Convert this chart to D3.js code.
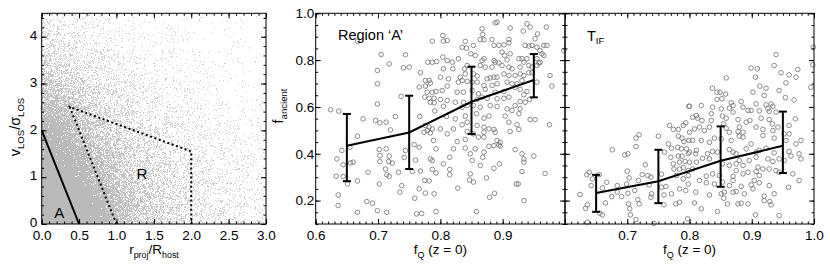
<!DOCTYPE html>
<html>
<head>
<meta charset="utf-8">
<script src="https://cdn.jsdelivr.net/npm/d3@7"></script>
<style>
  body { margin: 0; background: #fff; }
  svg { display: block; font-family: "Liberation Sans", Arial, Helvetica, sans-serif; }
  .tick text { font-size: 13.5px; fill: #000; }
  .tick line { stroke: #000; stroke-width: 1; }
</style>
</head>
<body>
<svg id="chart" width="830" height="265"></svg>
<script>
// panel 1 : density of the projected phase space (fill fraction in %)
var densX = [0.125, 0.375, 0.625, 0.875, 1.125, 1.375, 1.625, 1.875, 2.125, 2.375, 2.625, 2.875];
var densY = [0.125, 0.375, 0.625, 0.875, 1.125, 1.375, 1.625, 1.875, 2.125, 2.375, 2.625, 2.875,
             3.125, 3.375, 3.625, 3.875, 4.125, 4.375];
var density = [
  [100, 100, 100, 96, 70, 50, 38, 30, 22, 17, 13, 11],
  [100, 100, 100, 93, 67, 48, 37, 29, 21, 16, 13, 10],
  [100, 100, 99, 88, 63, 46, 35, 27, 20, 15, 12, 10],
  [100, 100, 96, 82, 58, 43, 33, 25, 19, 14, 11, 9],
  [100, 99, 91, 75, 53, 40, 30, 23, 17, 13, 10, 8],
  [100, 97, 85, 68, 48, 36, 27, 21, 15, 12, 9, 7],
  [99, 94, 78, 60, 43, 32, 24, 18, 13, 10, 8, 6],
  [97, 89, 70, 52, 37, 28, 21, 15, 11, 9, 7, 5],
  [94, 82, 61, 45, 32, 24, 17, 13, 10, 8, 6, 5],
  [88, 72, 52, 38, 27, 20, 14, 11, 8, 6, 5, 4],
  [78, 61, 43, 31, 22, 16, 12, 9, 7, 5, 4, 3],
  [65, 50, 35, 25, 18, 13, 9, 7, 6, 4, 3, 3],
  [52, 40, 28, 20, 14, 10, 7, 6, 5, 3, 3, 2],
  [41, 31, 22, 15, 11, 8, 6, 5, 4, 3, 2, 2],
  [32, 24, 17, 12, 9, 6, 5, 4, 3, 2, 2, 2],
  [25, 19, 13, 9, 7, 5, 4, 3, 2, 2, 2, 1],
  [19, 14, 10, 7, 5, 4, 3, 2, 2, 2, 1, 1],
  [15, 11, 8, 6, 4, 3, 2, 2, 2, 1, 1, 1]
];
var boundaryA = [[0, 2], [0.5, 0]];
var boundaryR = [[1, 0], [0.375, 2.5], [2, 1.55], [2, 0]];

var rTicks = [0, 0.5, 1, 1.5, 2, 2.5, 3];
var vTicks = [0, 1, 2, 3, 4];
var fqTicks = [0.6, 0.7, 0.8, 0.9, 1.0];
var fancTicks = [0.2, 0.4, 0.6, 0.8, 1.0];

// panels 2 and 3 : binned means with scatter
var fqBins = [0.65, 0.75, 0.85, 0.95];
var regionAMean = [0.434, 0.491, 0.622, 0.715];
var regionALo = [0.283, 0.335, 0.484, 0.641];
var regionAHi = [0.570, 0.648, 0.772, 0.826];
var tifMean = [0.232, 0.283, 0.370, 0.434];
var tifLo = [0.152, 0.189, 0.259, 0.318];
var tifHi = [0.310, 0.417, 0.517, 0.580];

var regionAPoints = [
  [0.667,0.881],[0.787,0.881],[0.705,0.824],[0.744,0.823],[0.718,0.784],[0.741,0.767],[0.750,0.770],
  [0.780,0.791],[0.787,0.791],[0.794,0.794],[0.699,0.756],[0.768,0.746],[0.776,0.713],[0.782,0.713],
  [0.784,0.702],[0.699,0.699],[0.766,0.685],[0.776,0.689],[0.779,0.663],[0.787,0.663],[0.793,0.666],
  [0.775,0.642],[0.782,0.637],[0.790,0.637],[0.784,0.620],[0.790,0.618],[0.699,0.613],[0.737,0.645],
  [0.624,0.588],[0.637,0.582],[0.791,0.583],[0.728,0.559],[0.767,0.559],[0.676,0.549],[0.696,0.542],
  [0.703,0.532],[0.713,0.535],[0.720,0.502],[0.776,0.521],[0.782,0.514],[0.779,0.499],[0.774,0.492],
  [0.787,0.506],[0.784,0.489],[0.667,0.475],[0.789,0.457],[0.758,0.439],[0.766,0.428],[0.793,0.421],
  [0.642,0.414],[0.655,0.428],[0.702,0.418],[0.713,0.421],[0.744,0.414],[0.634,0.378],[0.703,0.392],
  [0.718,0.390],[0.742,0.384],[0.760,0.373],[0.784,0.378],[0.787,0.371],[0.644,0.353],[0.656,0.361],
  [0.660,0.364],[0.703,0.367],[0.717,0.367],[0.723,0.360],[0.712,0.335],[0.787,0.333],[0.768,0.326],
  [0.755,0.324],[0.733,0.321],[0.793,0.318],[0.633,0.304],[0.644,0.303],[0.684,0.321],[0.714,0.310],
  [0.718,0.304],[0.651,0.271],[0.667,0.284],[0.702,0.271],[0.775,0.286],[0.782,0.284],[0.738,0.264],
  [0.766,0.250],[0.735,0.236],[0.776,0.232],[0.790,0.229],[0.636,0.224],[0.759,0.210],[0.682,0.196],
  [0.691,0.189],[0.636,0.179],[0.667,0.150],[0.699,0.157],[0.714,0.150],[0.762,0.143],[0.770,0.145],
  [0.793,0.153],
  [0.888,0.959],[0.891,0.962],[0.912,0.937],[0.939,0.955],[0.944,0.941],[0.970,0.941],[0.804,0.905],
  [0.811,0.884],[0.805,0.881],[0.867,0.934],[0.868,0.910],[0.864,0.888],[0.870,0.887],[0.883,0.888],
  [0.910,0.888],[0.952,0.891],[0.956,0.912],[0.933,0.924],[0.840,0.880],[0.835,0.855],[0.842,0.851],
  [0.853,0.863],[0.849,0.827],[0.856,0.820],[0.886,0.863],[0.894,0.863],[0.902,0.865],[0.910,0.874],
  [0.899,0.834],[0.903,0.820],[0.912,0.827],[0.936,0.863],[0.942,0.860],[0.947,0.863],[0.955,0.855],
  [0.966,0.863],[0.971,0.863],[0.960,0.841],[0.963,0.827],[0.998,0.841],[0.804,0.813],[0.811,0.798],
  [0.819,0.791],[0.829,0.806],[0.867,0.798],[0.870,0.806],[0.886,0.798],[0.894,0.788],[0.907,0.801],
  [0.926,0.806],[0.931,0.806],[0.934,0.791],[0.939,0.806],[0.955,0.806],[0.960,0.791],[0.966,0.820],
  [0.805,0.763],[0.820,0.763],[0.839,0.763],[0.843,0.777],[0.864,0.777],[0.872,0.770],[0.883,0.770],
  [0.888,0.791],[0.899,0.777],[0.910,0.770],[0.915,0.763],[0.928,0.770],[0.942,0.777],[0.947,0.770],
  [0.955,0.777],[0.958,0.788],[0.800,0.727],[0.813,0.720],[0.832,0.727],[0.840,0.741],[0.853,0.741],
  [0.859,0.732],[0.875,0.720],[0.880,0.724],[0.886,0.727],[0.891,0.727],[0.902,0.741],[0.910,0.734],
  [0.920,0.734],[0.928,0.741],[0.934,0.734],[0.942,0.746],[0.947,0.746],[0.976,0.734],[0.811,0.689],
  [0.829,0.706],[0.835,0.713],[0.843,0.709],[0.851,0.706],[0.859,0.706],[0.870,0.692],[0.883,0.692],
  [0.891,0.699],[0.907,0.706],[0.915,0.699],[0.923,0.699],[0.931,0.713],[0.955,0.706],[0.979,0.689],
  [0.803,0.670],[0.827,0.663],[0.837,0.663],[0.851,0.670],[0.861,0.656],[0.872,0.675],[0.888,0.663],
  [0.902,0.666],[0.920,0.684],[0.928,0.675],[0.939,0.666],[0.934,0.652],[0.800,0.632],[0.811,0.628],
  [0.824,0.620],[0.837,0.620],[0.859,0.632],[0.867,0.642],[0.875,0.637],[0.891,0.635],[0.902,0.637],
  [0.910,0.642],[0.928,0.623],[0.936,0.620],[0.943,0.632],[0.805,0.603],[0.835,0.599],[0.843,0.606],
  [0.853,0.606],[0.864,0.599],[0.880,0.606],[0.891,0.602],[0.907,0.592],[0.915,0.585],[0.920,0.606],
  [0.928,0.592],[0.810,0.559],[0.824,0.549],[0.840,0.561],[0.858,0.571],[0.870,0.552],[0.878,0.561],
  [0.904,0.561],[0.926,0.571],[0.944,0.546],[0.952,0.546],[0.800,0.506],[0.821,0.506],[0.835,0.524],
  [0.843,0.535],[0.859,0.521],[0.870,0.514],[0.878,0.506],[0.886,0.504],[0.910,0.535],[0.923,0.524],
  [0.975,0.524],[0.811,0.485],[0.843,0.495],[0.853,0.485],[0.870,0.492],[0.888,0.492],[0.912,0.495],
  [0.926,0.504],[0.827,0.452],[0.840,0.461],[0.861,0.471],[0.870,0.471],[0.891,0.457],[0.896,0.449],
  [0.894,0.438],[0.821,0.421],[0.840,0.424],[0.856,0.421],[0.878,0.432],[0.886,0.435],[0.896,0.432],
  [0.815,0.385],[0.848,0.400],[0.868,0.385],[0.870,0.407],[0.920,0.418],[0.931,0.400],[0.934,0.378],
  [0.950,0.390],[0.805,0.357],[0.851,0.371],[0.864,0.350],[0.895,0.357],[0.934,0.364],[0.815,0.333],
  [0.815,0.310],[0.848,0.314],[0.886,0.338],[0.931,0.324],[0.968,0.316],[0.828,0.253],[0.847,0.288],
  [0.853,0.279],[0.874,0.297],[0.922,0.271],[0.925,0.271],[0.887,0.231],[0.879,0.214],[0.934,0.200],
  [0.858,0.153]
];

var tifPoints = [
  [0.799,0.603],[0.768,0.521],[0.774,0.504],[0.782,0.504],[0.790,0.521],[0.794,0.532],[0.719,0.481],
  [0.714,0.467],[0.750,0.475],[0.782,0.475],[0.788,0.467],[0.791,0.452],[0.799,0.457],[0.714,0.431],
  [0.676,0.417],[0.766,0.442],[0.771,0.424],[0.781,0.428],[0.787,0.421],[0.795,0.421],[0.696,0.395],
  [0.701,0.400],[0.760,0.407],[0.770,0.385],[0.782,0.390],[0.788,0.390],[0.798,0.400],[0.729,0.353],
  [0.774,0.357],[0.784,0.364],[0.793,0.367],[0.700,0.326],[0.635,0.310],[0.639,0.321],[0.655,0.311],
  [0.724,0.311],[0.733,0.307],[0.755,0.313],[0.775,0.335],[0.784,0.335],[0.790,0.341],[0.798,0.328],
  [0.644,0.293],[0.703,0.297],[0.718,0.286],[0.738,0.300],[0.779,0.307],[0.790,0.293],[0.798,0.307],
  [0.642,0.264],[0.660,0.254],[0.667,0.278],[0.684,0.264],[0.699,0.271],[0.735,0.267],[0.762,0.260],
  [0.784,0.250],[0.794,0.243],[0.798,0.271],[0.624,0.226],[0.675,0.217],[0.684,0.236],[0.701,0.231],
  [0.712,0.243],[0.739,0.229],[0.738,0.214],[0.759,0.224],[0.771,0.229],[0.755,0.257],[0.665,0.190],
  [0.691,0.217],[0.717,0.204],[0.719,0.186],[0.759,0.182],[0.778,0.186],[0.784,0.193],[0.633,0.167],
  [0.636,0.182],[0.656,0.146],[0.660,0.139],[0.702,0.186],[0.704,0.165],[0.797,0.122],[0.705,0.139],
  [0.714,0.119],[0.636,0.108],[0.743,0.103],
  [0.939,0.824],[0.936,0.777],[0.999,0.855],[0.998,0.780],[0.899,0.766],[0.909,0.763],[0.906,0.727],
  [0.859,0.724],[0.947,0.746],[0.960,0.737],[0.971,0.727],[0.974,0.760],[0.955,0.703],[0.837,0.680],
  [0.844,0.663],[0.849,0.663],[0.858,0.655],[0.852,0.635],[0.844,0.632],[0.902,0.663],[0.913,0.689],
  [0.923,0.680],[0.920,0.649],[0.944,0.670],[0.954,0.640],[0.968,0.630],[0.995,0.684],[0.800,0.603],
  [0.819,0.606],[0.837,0.599],[0.867,0.618],[0.870,0.606],[0.883,0.623],[0.886,0.599],[0.894,0.585],
  [0.907,0.613],[0.923,0.609],[0.926,0.592],[0.931,0.613],[0.928,0.581],[0.934,0.603],[0.939,0.578],
  [0.899,0.585],[0.912,0.583],[0.811,0.563],[0.805,0.556],[0.835,0.571],[0.851,0.592],[0.853,0.561],
  [0.864,0.595],[0.870,0.578],[0.813,0.552],[0.820,0.542],[0.835,0.542],[0.859,0.552],[0.878,0.546],
  [0.891,0.535],[0.897,0.542],[0.915,0.552],[0.928,0.546],[0.933,0.528],[0.970,0.549],[0.800,0.492],
  [0.808,0.506],[0.816,0.514],[0.824,0.499],[0.832,0.514],[0.855,0.528],[0.859,0.509],[0.880,0.514],
  [0.864,0.492],[0.878,0.495],[0.886,0.492],[0.907,0.514],[0.918,0.504],[0.934,0.499],[0.942,0.514],
  [0.960,0.485],[0.952,0.485],[0.960,0.521],[0.805,0.457],[0.819,0.457],[0.832,0.449],[0.840,0.467],
  [0.851,0.464],[0.867,0.457],[0.880,0.475],[0.886,0.471],[0.899,0.442],[0.918,0.478],[0.936,0.467],
  [0.955,0.457],[0.971,0.442],[0.979,0.457],[0.800,0.407],[0.810,0.400],[0.811,0.414],[0.829,0.400],
  [0.837,0.410],[0.845,0.407],[0.864,0.418],[0.870,0.407],[0.875,0.400],[0.891,0.421],[0.907,0.407],
  [0.912,0.414],[0.923,0.424],[0.936,0.404],[0.960,0.410],[0.963,0.390],[0.976,0.400],[0.800,0.364],
  [0.811,0.364],[0.821,0.381],[0.832,0.378],[0.853,0.357],[0.864,0.350],[0.875,0.357],[0.880,0.371],
  [0.886,0.350],[0.896,0.371],[0.907,0.385],[0.926,0.378],[0.934,0.367],[0.944,0.378],[0.952,0.371],
  [0.979,0.378],[0.805,0.335],[0.827,0.304],[0.837,0.314],[0.848,0.307],[0.870,0.304],[0.875,0.328],
  [0.886,0.314],[0.894,0.321],[0.907,0.324],[0.912,0.307],[0.910,0.343],[0.918,0.335],[0.928,0.335],
  [0.939,0.328],[0.944,0.321],[0.966,0.314],[0.976,0.286],[0.816,0.286],[0.827,0.276],[0.840,0.271],
  [0.853,0.279],[0.864,0.264],[0.870,0.286],[0.883,0.261],[0.899,0.267],[0.904,0.286],[0.912,0.276],
  [0.928,0.264],[0.959,0.257],[0.810,0.236],[0.832,0.224],[0.851,0.229],[0.856,0.236],[0.870,0.236],
  [0.875,0.239],[0.888,0.229],[0.902,0.250],[0.920,0.219],[0.936,0.229],[0.808,0.190],[0.855,0.210],
  [0.861,0.186],[0.878,0.186],[0.883,0.189],[0.894,0.186],[0.920,0.200],[0.929,0.196],[0.931,0.182],
  [0.944,0.136],[0.845,0.153],[0.906,0.139],[0.819,0.165]
];

var svg = d3.select('#chart');
var TOP = 13.3, BOTTOM = 224;

// scales
var x1 = d3.scaleLinear().domain([0, 3]).range([41.7, 266]),
    y1 = d3.scaleLinear().domain([0, 4.5]).range([BOTTOM, TOP]),
    x2 = d3.scaleLinear().domain([0.6, 1.0]).range([315.7, 565]),
    x3 = d3.scaleLinear().domain([0.6, 1.0]).range([565, 814]),
    yf = d3.scaleLinear().domain([0.1, 1.0]).range([BOTTOM, TOP]);

// ---- panel 1 density, drawn as a stipple on a canvas
(function () {
  var px0 = Math.round(x1.range()[0]), px1 = Math.round(x1.range()[1]),
      py0 = Math.round(TOP), py1 = Math.round(BOTTOM);
  var w = px1 - px0, h = py1 - py0;
  var canvas = document.createElement('canvas');
  canvas.width = w; canvas.height = h;
  var ctx = canvas.getContext('2d');
  var img = ctx.createImageData(w, h);
  var gxs = d3.scaleLinear().domain([densX[0], densX[densX.length - 1]]).range([0, densX.length - 1]).clamp(true),
      gys = d3.scaleLinear().domain([densY[0], densY[densY.length - 1]]).range([0, densY.length - 1]).clamp(true);

  function dens(xv, yv) {
    var gx = gxs(xv), gy = gys(yv);
    var i = Math.min(Math.floor(gx), densX.length - 2), j = Math.min(Math.floor(gy), densY.length - 2);
    var fx = gx - i, fy = gy - j;
    var a = density[j][i] * (1 - fx) + density[j][i + 1] * fx,
        b = density[j + 1][i] * (1 - fx) + density[j + 1][i + 1] * fx;
    return (a * (1 - fy) + b * fy) / 100;
  }
  // fixed per-pixel threshold so the fill looks like a stipple
  function hash(x, y) {
    var k = Math.imul(x, 374761393) + Math.imul(y, 668265263);
    k = Math.imul(k ^ (k >>> 13), 1274126177);
    k ^= k >>> 16;
    return (k >>> 0) / 4294967296;
  }
  for (var yy = 0; yy < h; yy++) {
    for (var xx = 0; xx < w; xx++) {
      var d = dens(x1.invert(px0 + xx + 0.5), y1.invert(py0 + yy + 0.5));
      var on = hash(xx + 17, yy + 5) < d;
      // isolated dots look fainter than the solid core
      var p = (yy * w + xx) * 4, c = on ? Math.round(206 - 20 * d) : 255;
      img.data[p] = c; img.data[p + 1] = c; img.data[p + 2] = c; img.data[p + 3] = 255;
    }
  }
  ctx.putImageData(img, 0, 0);
  svg.append('image')
    .attr('x', px0).attr('y', py0).attr('width', w).attr('height', h)
    .attr('href', canvas.toDataURL());
})();

var line1 = d3.line().x(function (d) { return x1(d[0]); }).y(function (d) { return y1(d[1]); });
svg.append('path').attr('d', line1(boundaryA))
  .attr('fill', 'none').attr('stroke', '#000').attr('stroke-width', 2);
svg.append('path').attr('d', line1(boundaryR))
  .attr('fill', 'none').attr('stroke', '#000').attr('stroke-width', 2)
  .attr('stroke-dasharray', '2,2.6');

svg.append('text').attr('x', x1(0.235)).attr('y', y1(0.25)).attr('dy', '0.35em')
  .attr('text-anchor', 'middle').attr('font-size', 15).text('A');
svg.append('text').attr('x', x1(1.34)).attr('y', y1(1.07)).attr('dy', '0.35em')
  .attr('text-anchor', 'middle').attr('font-size', 15).text('R');

// ---- panels 2 and 3
function drawScatter(xs, points, mean, lo, hi) {
  var g = svg.append('g');
  g.selectAll('circle').data(points).enter().append('circle')
    .attr('cx', function (d) { return xs(d[0]); })
    .attr('cy', function (d) { return yf(d[1]); })
    .attr('r', 2.3)
    .attr('fill', 'none').attr('stroke', '#707070').attr('stroke-width', 0.8);

  var line = d3.line().x(function (d, i) { return xs(fqBins[i]); }).y(function (d) { return yf(d); });
  g.append('path').attr('d', line(mean))
    .attr('fill', 'none').attr('stroke', '#000').attr('stroke-width', 2);

  var bars = g.selectAll('g.err').data(fqBins).enter().append('g').attr('class', 'err')
    .attr('stroke', '#000').attr('stroke-width', 2);
  bars.append('line')
    .attr('x1', function (d) { return xs(d); }).attr('x2', function (d) { return xs(d); })
    .attr('y1', function (d, i) { return yf(lo[i]); }).attr('y2', function (d, i) { return yf(hi[i]); });
  [lo, hi].forEach(function (arr) {
    bars.append('line')
      .attr('x1', function (d) { return xs(d) - 4; }).attr('x2', function (d) { return xs(d) + 4; })
      .attr('y1', function (d, i) { return yf(arr[i]); }).attr('y2', function (d, i) { return yf(arr[i]); });
  });
}
drawScatter(x2, regionAPoints, regionAMean, regionALo, regionAHi);
drawScatter(x3, tifPoints, tifMean, tifLo, tifHi);

// ---- axes: inward ticks on all four sides, IDL style
function frame(xs, ys, xMajor, xMinor, yMajor, yMinor, xFmt, yFmt, yPad, yDy) {
  var g = svg.append('g');
  var top = ys.range()[1], bot = ys.range()[0], left = xs.range()[0], right = xs.range()[1];
  function add(axis, tr) {
    var a = g.append('g').attr('transform', tr).call(axis);
    a.select('.domain').remove();
    return a;
  }
  add(d3.axisBottom(xs).tickValues(xMinor).tickSize(-2.5).tickFormat(''), 'translate(0,' + bot + ')');
  add(d3.axisTop(xs).tickValues(xMinor).tickSize(-2.5).tickFormat(''), 'translate(0,' + top + ')');
  add(d3.axisBottom(xs).tickValues(xMajor).tickSize(-5).tickPadding(6.5).tickFormat(xFmt), 'translate(0,' + bot + ')');
  add(d3.axisTop(xs).tickValues(xMajor).tickSize(-5).tickFormat(''), 'translate(0,' + top + ')');
  add(d3.axisLeft(ys).tickValues(yMinor).tickSize(-2.5).tickFormat(''), 'translate(' + left + ',0)');
  add(d3.axisRight(ys).tickValues(yMinor).tickSize(-2.5).tickFormat(''), 'translate(' + right + ',0)');
  add(d3.axisLeft(ys).tickValues(yMajor).tickSize(-5).tickPadding(yPad).tickFormat(yFmt), 'translate(' + left + ',0)')
    .selectAll('text').attr('dy', yDy);
  add(d3.axisRight(ys).tickValues(yMajor).tickSize(-5).tickFormat(''), 'translate(' + right + ',0)');
  g.append('rect').attr('x', left).attr('y', top).attr('width', right - left).attr('height', bot - top)
    .attr('fill', 'none').attr('stroke', '#000').attr('stroke-width', 1);
}

frame(x1, y1, rTicks, d3.range(0, 3.001, 0.1), vTicks, d3.range(0, 4.501, 0.2),
  d3.format('.1f'), d3.format('d'), 4.5, '0.2em');
frame(x2, yf, fqTicks, d3.range(0.6, 1.0001, 0.01), fancTicks, d3.range(0.1, 1.0001, 0.05),
  function (d) { return d < 0.95 ? d3.format('.1f')(d) : ''; }, d3.format('.1f'), 1.5, '0.32em');
frame(x3, yf, fqTicks, d3.range(0.6, 1.0001, 0.01), fancTicks, d3.range(0.1, 1.0001, 0.05),
  function (d) { return d > 0.65 ? d3.format('.1f')(d) : ''; }, function () { return ''; }, 1.5, '0.32em');

// ---- titles
function subLabel(g, parts, size) {
  var t = g.append('text');
  parts.forEach(function (p) {
    t.append('tspan').attr('font-size', p.sub ? size * 0.66 : size)
      .attr('dy', p.dy || 0).text(p.t);
  });
  return t;
}
var yt = svg.append('g').attr('transform', 'translate(20,127) rotate(-90)');
subLabel(yt, [{t: 'v'}, {t: 'LOS', sub: true, dy: 3.5}, {t: '/σ', dy: -3.5}, {t: 'LOS', sub: true, dy: 3.5}], 14.5)
  .attr('text-anchor', 'middle');
var xt = svg.append('g').attr('transform', 'translate(154,254)');
subLabel(xt, [{t: 'r'}, {t: 'proj', sub: true, dy: 3.5}, {t: '/R', dy: -3.5}, {t: 'host', sub: true, dy: 3.5}], 13.5)
  .attr('text-anchor', 'middle');

var ft = svg.append('g').attr('transform', 'translate(283,106) rotate(-90)');
subLabel(ft, [{t: 'f'}, {t: 'ancient', sub: true, dy: 3.5}], 14.5).attr('text-anchor', 'middle');

[x2, x3].forEach(function (xs) {
  var c = (xs.range()[0] + xs.range()[1]) / 2;
  var g = svg.append('g').attr('transform', 'translate(' + c + ',254)');
  subLabel(g, [{t: 'f'}, {t: 'Q', sub: true, dy: 3.5}, {t: ' (z = 0)', dy: -3.5}], 13.5).attr('text-anchor', 'middle');
});

svg.append('text').attr('x', 338).attr('y', 40).attr('font-size', 14.5).text('Region ‘A’');
var tg = svg.append('g').attr('transform', 'translate(587,41)');
subLabel(tg, [{t: 'T'}, {t: 'IF', sub: true, dy: 3}], 14.5);
</script>
</body>
</html>
